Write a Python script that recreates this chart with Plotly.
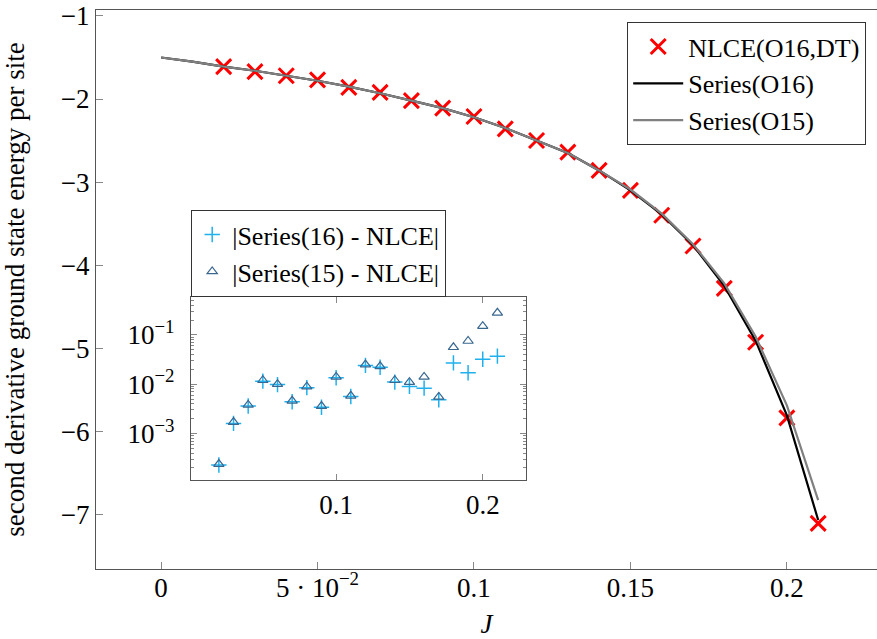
import plotly.graph_objects as go

# ---------------- data ----------------
J_nlce = [0.02, 0.03, 0.04, 0.05, 0.06, 0.07, 0.08, 0.09, 0.10, 0.11,
          0.12, 0.13, 0.14, 0.15, 0.16, 0.17, 0.18, 0.19, 0.20, 0.21]
nlce = [-1.61, -1.67, -1.72, -1.77, -1.86, -1.92, -2.02, -2.11, -2.21, -2.36,
        -2.50, -2.64, -2.86, -3.10, -3.40, -3.77, -4.28, -4.93, -5.84, -7.11]

J_series = [0.00, 0.01, 0.02, 0.03, 0.04, 0.05, 0.06, 0.07, 0.08, 0.09, 0.10,
            0.11, 0.12, 0.13, 0.14, 0.15, 0.16, 0.17, 0.18, 0.19, 0.20, 0.21]
series16 = [-1.50, -1.55, -1.61, -1.66, -1.72, -1.78, -1.85, -1.93, -2.02, -2.11, -2.22,
            -2.35, -2.50, -2.65, -2.86, -3.10, -3.39, -3.76, -4.25, -4.91, -5.81, -7.07]
series15 = [-1.50, -1.55, -1.61, -1.66, -1.72, -1.78, -1.85, -1.93, -2.02, -2.11, -2.22,
            -2.35, -2.50, -2.65, -2.86, -3.09, -3.38, -3.75, -4.22, -4.86, -5.69, -6.83]

err16 = [2.3e-4, 1.6e-3, 3.6e-3, 1.15e-2, 9.8e-3, 4.4e-3, 8.5e-3, 3.4e-3, 1.35e-2, 5.6e-3,
         2.4e-2, 2.2e-2, 1.1e-2, 9.0e-3, 8.3e-3, 4.8e-3, 2.7e-2, 1.7e-2, 3.2e-2, 3.7e-2]
err15 = [2.4e-4, 1.7e-3, 3.8e-3, 1.2e-2, 1.0e-2, 4.6e-3, 8.9e-3, 3.6e-3, 1.4e-2, 5.8e-3,
         2.5e-2, 2.3e-2, 1.2e-2, 1.1e-2, 1.4e-2, 5.5e-3, 5.6e-2, 7.5e-2, 0.15, 0.28]

x_tickvals = [0, 0.05, 0.1, 0.15, 0.2]
x_ticktext = ["0", "5 \u00b7 10<sup>\u22122</sup>", "0.1", "0.15", "0.2"]
y_tickvals = [-1, -2, -3, -4, -5, -6, -7]
y_ticktext = ["\u22121", "\u22122", "\u22123", "\u22124", "\u22125", "\u22126", "\u22127"]
inset_xticks = [0.1, 0.2]
inset_xtext = ["0.1", "0.2"]
inset_yticks = [1e-3, 1e-2, 1e-1]
inset_ytext = ["10<sup>\u22123</sup>", "10<sup>\u22122</sup>", "10<sup>\u22121</sup>"]

# ---------------- figure ----------------
FONT = "Liberation Serif"
AX = "#555555"
TK = "#888888"
FS = 27

def f(size=FS):
    return dict(family=FONT, size=size, color="black")

fig = go.Figure()

fig.add_trace(go.Scatter(x=J_nlce, y=nlce, mode="markers", name="NLCE(O16,DT)",
                         marker=dict(symbol="x-thin-open", size=15, color="#ff0000",
                                     line=dict(color="#ff0000", width=3)),
                         legend="legend"))
fig.add_trace(go.Scatter(x=J_series, y=series16, mode="lines", name="Series(O16)",
                         line=dict(color="black", width=2.2), legend="legend"))
fig.add_trace(go.Scatter(x=J_series, y=series15, mode="lines", name="Series(O15)",
                         line=dict(color="#808080", width=2.2), legend="legend"))

fig.add_trace(go.Scatter(x=J_nlce, y=err16, mode="markers", name="|Series(16) - NLCE|",
                         xaxis="x2", yaxis="y2",
                         marker=dict(symbol="cross-thin-open", size=11, color="#1fb0ee",
                                     line=dict(color="#1fb0ee", width=1.5)),
                         legend="legend2"))
fig.add_trace(go.Scatter(x=J_nlce, y=err15, mode="markers", name="|Series(15) - NLCE|",
                         xaxis="x2", yaxis="y2",
                         marker=dict(symbol="triangle-up-open", size=9, color="#3a6790",
                                     line=dict(color="#3a6790", width=1.2)),
                         legend="legend2"))

W, H = 877, 639
L, R, T, B = 96, 0, 10, 68
pw, ph = W - L - R, H - T - B

def px_x(p):
    return (p - L) / pw

def px_y(p):
    return (H - B - p) / ph

fig.update_layout(
    width=W, height=H,
    margin=dict(l=L, r=R, t=T, b=B),
    paper_bgcolor="white", plot_bgcolor="white",
    font=f(),
    xaxis=dict(range=[-0.0208, 0.2288], tickvals=x_tickvals, ticktext=x_ticktext,
               tickfont=f(), ticklabelstandoff=-6,
               showline=True, linecolor=AX, linewidth=1.3, mirror=True,
               ticks="inside", ticklen=7, tickcolor=TK, showgrid=False, zeroline=False,
               title=dict(text="<i>J</i>", standoff=18, font=f()), domain=[0, 1]),
    yaxis=dict(range=[-7.66, -0.928], tickvals=y_tickvals, ticktext=y_ticktext,
               tickfont=f(),
               showline=True, linecolor=AX, linewidth=1.3, mirror=False,
               ticks="inside", ticklen=7, tickcolor=TK, showgrid=False, zeroline=False,
               title=dict(text="second derivative ground state energy per site",
                          standoff=30, font=f())),
    yaxis3=dict(range=[-7.66, -0.928], tickvals=y_tickvals, overlaying="y", side="right",
                anchor="x", showline=False, ticks="inside", ticklen=7, tickcolor=TK,
                showticklabels=False, showgrid=False, zeroline=False),
    xaxis2=dict(domain=[px_x(191), px_x(526)], anchor="y2", range=[0.001, 0.2295],
                tickvals=inset_xticks, ticktext=inset_xtext,
                showline=True, linecolor=AX, linewidth=1.2, mirror="ticks",
                ticks="inside", ticklen=6, tickcolor=TK, showgrid=False, zeroline=False,
                tickfont=f()),
    yaxis2=dict(domain=[px_y(482), px_y(298)], anchor="x2", type="log",
                range=[-3.95, -0.232], tickvals=inset_yticks, ticktext=inset_ytext,
                showline=True, linecolor=AX, linewidth=1.2, mirror="ticks",
                ticks="inside", ticklen=6, tickcolor=TK, showgrid=False, zeroline=False,
                ticklabelstandoff=10,
                minor=dict(ticks="inside", ticklen=3, tickcolor=TK, showgrid=False, dtick="D1"),
                tickfont=f()),
    legend=dict(x=px_x(866), y=px_y(22), xanchor="right", yanchor="top",
                bgcolor="white", bordercolor="#333333", borderwidth=1.2,
                font=f(26), tracegroupgap=0, itemwidth=50),
    legend2=dict(x=px_x(191), y=px_y(298), xanchor="left", yanchor="bottom",
                 bgcolor="white", bordercolor="#333333", borderwidth=1.2,
                 font=f(26), tracegroupgap=0, itemwidth=30),
    showlegend=True,
)

fig.write_html("out.html")
